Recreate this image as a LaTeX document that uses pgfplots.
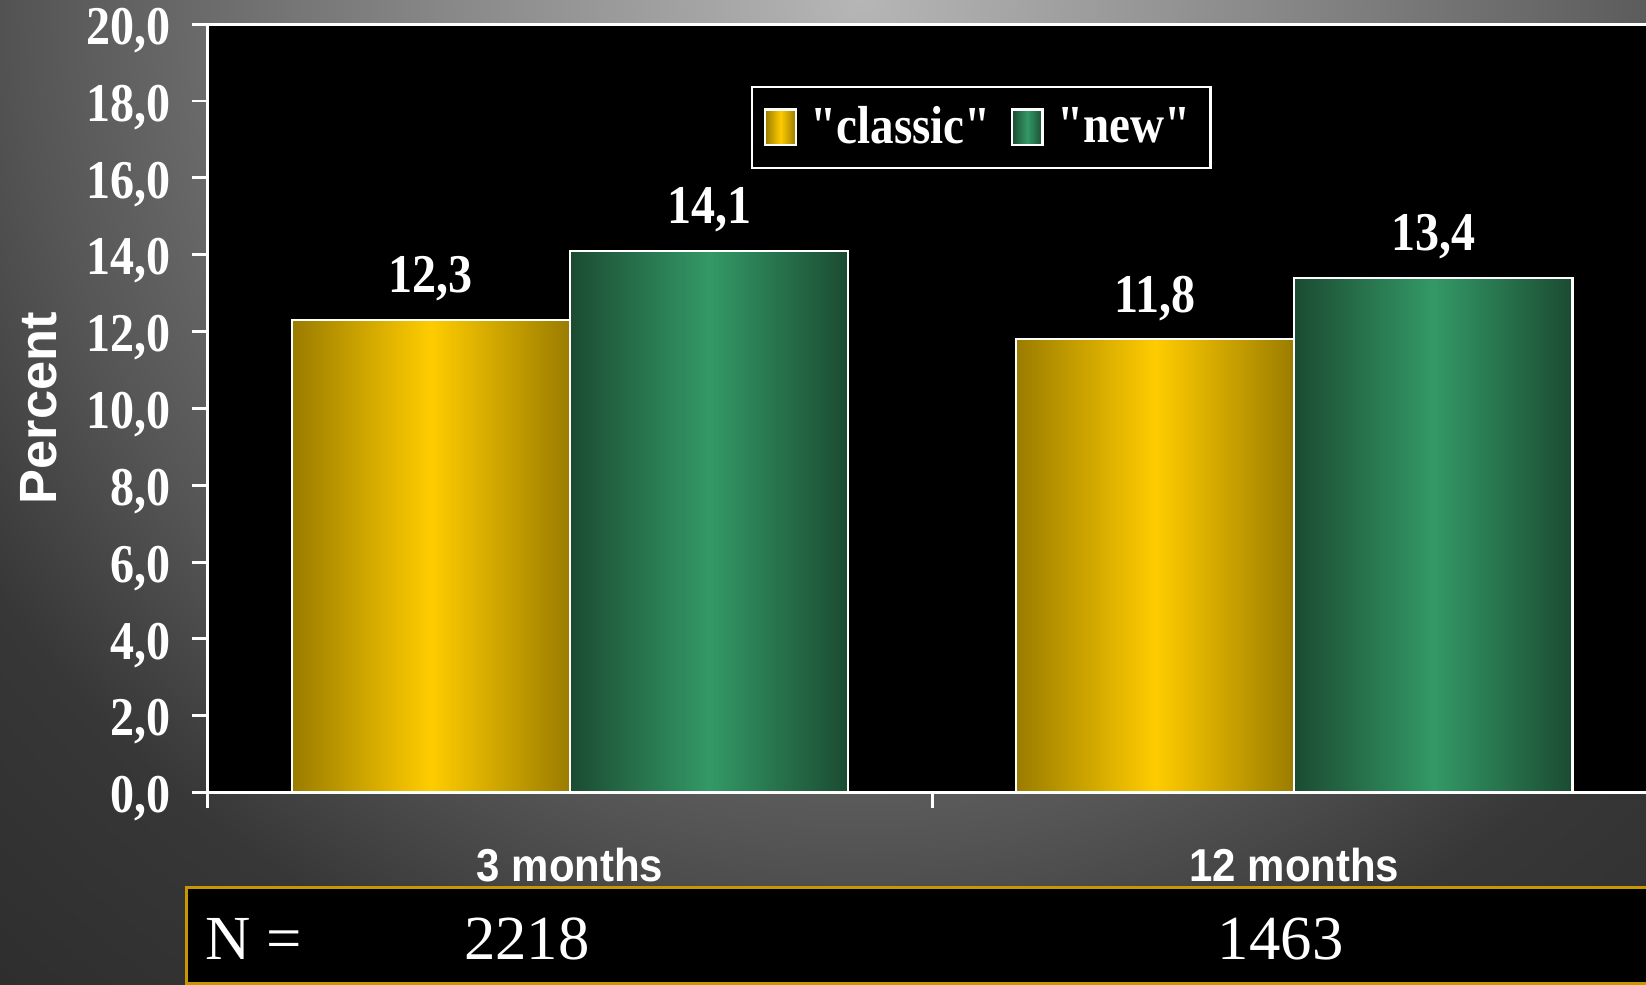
\documentclass[border=0pt]{standalone}
\usepackage{pgfplots}
\pgfplotsset{compat=1.18}
\usepackage{fontspec}
\setmainfont{Liberation Serif}
\newfontfamily\tnrb[FakeStretch=0.88]{Liberation Serif}
\newfontfamily\arialc[FakeStretch=0.91]{Liberation Sans}
\newfontfamily\arial{Liberation Sans}

% background (tikz maps +-25bp onto the circle)
\definecolor{bg0}{RGB}{182,182,182}
\definecolor{bg1}{RGB}{135,135,135}
\definecolor{bg2}{RGB}{85,85,85}
\definecolor{bg3}{RGB}{55,55,55}
\definecolor{bg4}{RGB}{44,44,44}
\pgfdeclareradialshading{bgshade}{\pgfpoint{0bp}{0bp}}{color(0bp)=(bg0); color(7.7bp)=(bg1); color(15.4bp)=(bg2); color(19.2bp)=(bg3); color(25bp)=(bg4); color(50bp)=(bg4)}

% bars
\definecolor{golddark}{RGB}{154,124,0}
\definecolor{goldmid}{RGB}{255,204,0}
\definecolor{greendark}{RGB}{27,75,50}
\definecolor{greenmid}{RGB}{51,153,102}
\definecolor{boxline}{RGB}{200,150,0}

\pgfplotsset{
  classic/.style={bar width=26.5mm, bar shift=-13.25mm, draw=white, line width=0.6pt,
    left color=golddark, right color=golddark, middle color=goldmid},
  new/.style={bar width=26.5mm, bar shift=13.25mm, draw=white, line width=0.6pt,
    left color=greendark, right color=greendark, middle color=greenmid},
}

\begin{document}
\begin{tikzpicture}
\begin{scope}
  \clip (0,0) rectangle (156.8mm,93.8mm);
  \shade[shading=bgshade] (82mm,93.8mm) circle (130mm);
\end{scope}

\begin{axis}[
    at={(19.8mm,18.3mm)}, anchor=south west
  , scale only axis, width=138mm, height=73.2mm
  , xmin=0, xmax=2, ymin=0, ymax=20
  , ybar
  , axis background/.style={fill=black}
  , axis line style={white, line width=0.8pt}
  , tick style={white, line width=0.8pt}
  , major tick length=1.5mm
  , tick align=outside, tick pos=left
  , xtick={0,1,2}, xticklabels={}
  , extra x ticks={0.5,1.5}
  , extra x tick labels={3 months,12 months}
  , extra x tick style={major tick length=0pt,
      tick label style={font=\arialc\bfseries\fontsize{12.5}{14}\selectfont, text=white, yshift=-4.0mm}}
  , ytick={0,2,...,20}
  , yticklabel style={font=\tnrb\bfseries\fontsize{14.8}{16}\selectfont, text=white, xshift=-0.8mm, yshift=-0.6mm}
  , /pgf/number format/fixed, /pgf/number format/fixed zerofill
  , /pgf/number format/precision=1, /pgf/number format/use comma
  , /pgf/number format/assume math mode=true
  , ylabel={Percent}
  , ylabel style={font=\arial\bfseries\fontsize{14.2}{16}\selectfont, text=white,
      at={(axis description cs:-0.1167,0.5)}, anchor=center}
  , nodes near coords
  , every node near coord/.append style={font=\tnrb\bfseries\fontsize{14.8}{16}\selectfont, text=white, yshift=0.5mm}
  , legend style={at={(0.3746,0.9194)}, anchor=north west, draw=white, line width=0.6pt,
      fill=black, text=white, font=\tnrb\bfseries\fontsize{14.5}{16}\selectfont,
      legend columns=2,
      /tikz/every odd column/.append style={column sep=0.6mm},
      /tikz/every even column/.append style={column sep=1.2mm},
      inner xsep=1.2mm, inner ysep=1.1mm}
  , legend image code/.code={\draw[#1, draw=white, line width=0.6pt] (0mm,-1.7mm) rectangle (2.9mm,1.7mm);}
  ]
  % one plot per bar, so that each bar gets its own shading
  \addplot[classic] coordinates {(0.5,12.3)};
  \addplot[new] coordinates {(0.5,14.1)};
  \addplot[classic, forget plot] coordinates {(1.5,11.8)};
  \addplot[new, forget plot] coordinates {(1.5,13.4)};
  \legend{"classic", "new"}
\end{axis}

% sample size row
\draw[boxline, line width=0.8pt, fill=black] (17.8mm,0.15mm) rectangle (170mm,9.3mm);
\node[anchor=base west, inner sep=0pt, text=white, font=\fontsize{17}{20}\selectfont] at (19.5mm,2.4mm) {N =};
\node[anchor=base, inner sep=0pt, text=white, font=\fontsize{17}{20}\selectfont] at (50.2mm,2.4mm) {2218};
\node[anchor=base, inner sep=0pt, text=white, font=\fontsize{17}{20}\selectfont] at (122mm,2.4mm) {1463};

\pgfresetboundingbox
\useasboundingbox (0,0) rectangle (156.8mm,93.8mm);
\end{tikzpicture}
\end{document}
